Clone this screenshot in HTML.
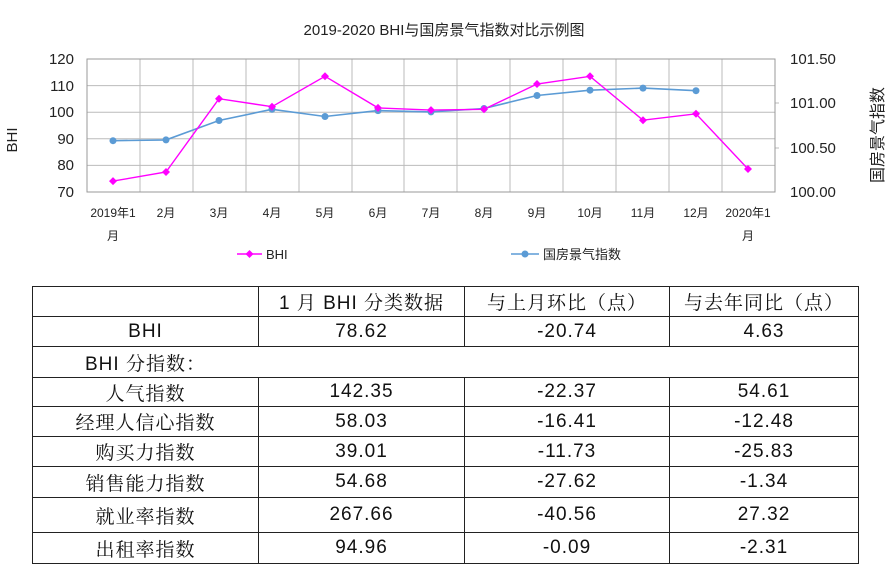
<!DOCTYPE html>
<html><head><meta charset="utf-8"><style>
body{margin:0;background:#fff;width:888px;height:570px;overflow:hidden;position:relative}
svg{position:absolute;left:0;top:0}
table{position:absolute;left:32px;top:286px;border-collapse:collapse;font-family:"Liberation Sans","Noto Serif CJK SC",serif;font-size:19px;color:#111}
td{border:1.5px solid #222;text-align:center;padding:0;letter-spacing:1px}
</style></head><body>
<svg width="888" height="285" font-family="Liberation Sans,'Noto Sans CJK SC',sans-serif">
<text x="444" y="35" font-size="15" text-anchor="middle" fill="#222">2019-2020 BHI与国房景气指数对比示例图</text>
<g stroke="#bbb" stroke-width="1">
<line x1="87" x2="775" y1="85.6" y2="85.6"/><line x1="87" x2="775" y1="112.2" y2="112.2"/><line x1="87" x2="775" y1="138.8" y2="138.8"/><line x1="87" x2="775" y1="165.4" y2="165.4"/>
<line x1="140" x2="140" y1="59" y2="192"/><line x1="193" x2="193" y1="59" y2="192"/><line x1="246" x2="246" y1="59" y2="192"/><line x1="299" x2="299" y1="59" y2="192"/><line x1="352" x2="352" y1="59" y2="192"/><line x1="404" x2="404" y1="59" y2="192"/><line x1="457" x2="457" y1="59" y2="192"/><line x1="510" x2="510" y1="59" y2="192"/><line x1="563" x2="563" y1="59" y2="192"/><line x1="616" x2="616" y1="59" y2="192"/><line x1="669" x2="669" y1="59" y2="192"/><line x1="722" x2="722" y1="59" y2="192"/>
<line x1="775" x2="779" y1="103" y2="103"/><line x1="775" x2="779" y1="148" y2="148"/>
</g>
<rect x="87" y="59" width="688" height="133" fill="none" stroke="#999"/>
<g font-size="15" fill="#222" text-anchor="end">
<text x="74" y="64">120</text><text x="74" y="91">110</text><text x="74" y="117">100</text><text x="74" y="144">90</text><text x="74" y="170">80</text><text x="74" y="197">70</text>
</g>
<g font-size="15" fill="#222">
<text x="790" y="64">101.50</text><text x="790" y="108">101.00</text><text x="790" y="153">100.50</text><text x="790" y="197">100.00</text>
</g>
<text transform="translate(17,140) rotate(-90)" font-size="15" text-anchor="middle" fill="#222">BHI</text>
<text transform="translate(883,135) rotate(-90)" font-size="16" text-anchor="middle" fill="#222">国房景气指数</text>
<g font-size="12" fill="#222" text-anchor="middle">
<text x="113" y="217">2019年1</text><text x="113" y="240">月</text>
<text x="166" y="217">2月</text><text x="219" y="217">3月</text><text x="272" y="217">4月</text><text x="325" y="217">5月</text><text x="378" y="217">6月</text><text x="431" y="217">7月</text><text x="484" y="217">8月</text><text x="537" y="217">9月</text><text x="590" y="217">10月</text><text x="643" y="217">11月</text><text x="696" y="217">12月</text>
<text x="748" y="217">2020年1</text><text x="748" y="240">月</text>
</g>
<polyline fill="none" stroke="#5b9bd5" stroke-width="1.6" points="113,140.7 166,139.9 219,120.5 272,109.3 325,116.5 378,110.6 431,111.9 484,108.5 537,95.5 590,90.2 643,88.1 696,90.7"/>
<g fill="#5b9bd5">
<circle cx="113" cy="140.7" r="3.5"/><circle cx="166" cy="139.9" r="3.5"/><circle cx="219" cy="120.5" r="3.5"/><circle cx="272" cy="109.3" r="3.5"/><circle cx="325" cy="116.5" r="3.5"/><circle cx="378" cy="110.6" r="3.5"/><circle cx="431" cy="111.9" r="3.5"/><circle cx="484" cy="108.5" r="3.5"/><circle cx="537" cy="95.5" r="3.5"/><circle cx="590" cy="90.2" r="3.5"/><circle cx="643" cy="88.1" r="3.5"/><circle cx="696" cy="90.7" r="3.5"/>
</g>
<polyline fill="none" stroke="#ff00ff" stroke-width="1.4" points="113,181.1 166,172 219,98.7 272,106.7 325,76.3 378,107.9 431,110.1 484,109.3 537,84 590,76.3 643,120.2 696,113.8 748,169"/>
<g fill="#ff00ff">
<path d="M113,177.1l4,4l-4,4l-4,-4z"/><path d="M166,168l4,4l-4,4l-4,-4z"/><path d="M219,94.7l4,4l-4,4l-4,-4z"/><path d="M272,102.7l4,4l-4,4l-4,-4z"/><path d="M325,72.3l4,4l-4,4l-4,-4z"/><path d="M378,103.9l4,4l-4,4l-4,-4z"/><path d="M431,106.1l4,4l-4,4l-4,-4z"/><path d="M484,105.3l4,4l-4,4l-4,-4z"/><path d="M537,80l4,4l-4,4l-4,-4z"/><path d="M590,72.3l4,4l-4,4l-4,-4z"/><path d="M643,116.2l4,4l-4,4l-4,-4z"/><path d="M696,109.8l4,4l-4,4l-4,-4z"/><path d="M748,165l4,4l-4,4l-4,-4z"/>
</g>
<line x1="237" x2="262" y1="254" y2="254" stroke="#ff00ff" stroke-width="1.4"/><path d="M249.5,250l4,4l-4,4l-4,-4z" fill="#ff00ff"/>
<text x="266" y="259" font-size="13" fill="#222">BHI</text>
<line x1="511" x2="539" y1="254" y2="254" stroke="#5b9bd5" stroke-width="1.6"/><circle cx="525" cy="254" r="3.5" fill="#5b9bd5"/>
<text x="543" y="259" font-size="13" fill="#222">国房景气指数</text>
</svg>
<table>
<colgroup><col style="width:226px"><col style="width:206px"><col style="width:205px"><col style="width:189px"></colgroup>
<tr style="height:30px"><td></td><td>1 月 BHI 分类数据</td><td>与上月环比（点）</td><td>与去年同比（点）</td></tr>
<tr style="height:30px"><td>BHI</td><td>78.62</td><td>-20.74</td><td>4.63</td></tr>
<tr style="height:31px"><td colspan="4" style="text-align:left;padding-left:52px">BHI 分指数：</td></tr>
<tr style="height:29px"><td>人气指数</td><td>142.35</td><td>-22.37</td><td>54.61</td></tr>
<tr style="height:30px"><td>经理人信心指数</td><td>58.03</td><td>-16.41</td><td>-12.48</td></tr>
<tr style="height:30px"><td>购买力指数</td><td>39.01</td><td>-11.73</td><td>-25.83</td></tr>
<tr style="height:31px"><td>销售能力指数</td><td>54.68</td><td>-27.62</td><td>-1.34</td></tr>
<tr style="height:35px"><td>就业率指数</td><td>267.66</td><td>-40.56</td><td>27.32</td></tr>
<tr style="height:31px"><td>出租率指数</td><td>94.96</td><td>-0.09</td><td>-2.31</td></tr>
</table>
</body></html>
